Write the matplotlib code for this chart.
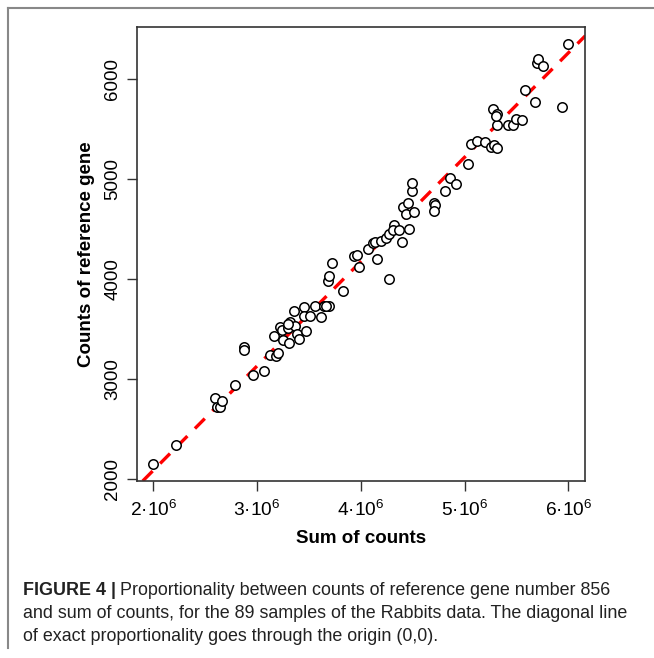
import matplotlib
matplotlib.use("Agg")
import matplotlib.pyplot as plt
from matplotlib.lines import Line2D

plt.rcParams['font.family'] = ['Liberation Sans', 'DejaVu Sans']
plt.rcParams['mathtext.fontset'] = 'custom'
plt.rcParams['mathtext.rm'] = 'Liberation Sans'
plt.rcParams['mathtext.it'] = 'Liberation Sans'

# Sum of counts (in millions) per sample
sum_counts_m = [2.000, 2.218, 2.597, 2.616, 2.642, 2.665, 2.787, 2.870, 2.870, 2.957,
                3.063, 3.124, 3.178, 3.204, 3.162, 3.220, 3.236, 3.252, 3.307, 3.300,
                3.319, 3.355, 3.364, 3.380, 3.400, 3.451, 3.454, 3.470, 3.509, 3.557,
                3.615, 3.640, 3.692, 3.685, 3.692, 3.724, 3.830, 3.933, 3.965, 3.984,
                4.071, 4.119, 4.135, 4.157, 4.196, 4.241, 4.267, 4.267, 4.318, 4.311,
                4.363, 4.392, 4.404, 4.436, 4.456, 4.459, 4.494, 4.497, 4.510, 4.700,
                4.710, 4.700, 4.809, 4.854, 4.921, 5.034, 5.059, 5.117, 5.191, 5.249,
                5.281, 5.307, 5.275, 5.307, 5.307, 5.300, 5.419, 5.470, 5.496, 5.554,
                5.579, 5.679, 5.698, 5.711, 5.753, 5.942, 6.000, 3.665, 3.300]
# Counts of reference gene number 856
ref_counts = [2147, 2340, 2807, 2723, 2717, 2783, 2940, 3317, 3287, 3040,
              3083, 3240, 3230, 3263, 3433, 3523, 3490, 3387, 3357, 3507,
              3570, 3683, 3530, 3447, 3400, 3723, 3630, 3480, 3630, 3730,
              3620, 3730, 3730, 3973, 4030, 4157, 3873, 4230, 4240, 4117,
              4300, 4357, 4363, 4197, 4380, 4407, 4450, 4000, 4540, 4490,
              4490, 4363, 4713, 4647, 4757, 4500, 4877, 4953, 4663, 4757,
              4733, 4680, 4873, 5007, 4950, 5150, 5350, 5377, 5363, 5320,
              5333, 5307, 5697, 5650, 5540, 5627, 5537, 5540, 5593, 5583,
              5887, 5767, 6157, 6197, 6130, 5717, 6350, 3730, 3545]

proportionality_slope = 1.043e-3  # counts per unit of sum of counts

xtick_values = [2e6, 3e6, 4e6, 5e6, 6e6]
xtick_labels = ['2\u00b710$^{6}$', '3\u00b710$^{6}$', '4\u00b710$^{6}$', '5\u00b710$^{6}$', '6\u00b710$^{6}$']
ytick_values = [2000, 3000, 4000, 5000, 6000]
ytick_labels = ['2000', '3000', '4000', '5000', '6000']

W, H = 654, 658
fig = plt.figure(figsize=(W / 100, H / 100), dpi=100)
ax = fig.add_axes([137.3 / W, 1 - 481 / H, (585.3 - 137.3) / W, (481 - 27) / H])

x = [v * 1e6 for v in sum_counts_m]
ax.plot(x, ref_counts, linestyle='none', marker='o', markersize=6.8,
        markerfacecolor='white', markeredgecolor='black', markeredgewidth=1.1, zorder=3)
ax.axline((0, 0), slope=proportionality_slope, color='#ff0000', linewidth=2.4,
          dashes=(4.2, 3.2), zorder=2)

ax.set_xlim(1.846e6, 6.162e6)
ax.set_ylim(1980, 6515)
ax.set_xticks(xtick_values)
ax.set_xticklabels(xtick_labels, fontsize=13.8)
ax.set_yticks(ytick_values)
ax.set_yticklabels(ytick_labels, fontsize=13.5, rotation=90, va='center')
ax.tick_params(axis='both', direction='out', length=7.5, width=1.0, color='#333333')
ax.tick_params(axis='x', pad=6)
ax.tick_params(axis='y', pad=4)
for s in ax.spines.values():
    s.set_linewidth(1.2)
    s.set_color('#333333')

ax.set_xlabel('Sum of counts', fontsize=13.5, fontweight='bold', labelpad=7)
ax.set_ylabel('Counts of reference gene', fontsize=13.5, fontweight='bold', labelpad=7)

# figure panel border (top and left)
fig.add_artist(Line2D([8 / W, 8 / W], [1 - 8 / H, 1 - 648 / H], color='#888888', linewidth=1.5,
                      transform=fig.transFigure))
fig.add_artist(Line2D([8 / W, 1.0], [1 - 8 / H, 1 - 8 / H], color='#888888', linewidth=1.5,
                      transform=fig.transFigure))

# caption
cap_size = 12.9
x0 = 22.7 / W
t1 = fig.text(x0, 1 - 595 / H, 'FIGURE 4 |', fontsize=cap_size, fontweight='bold',
              va='baseline', ha='left', color='#222222')
fig.canvas.draw()
bb = t1.get_window_extent()
fig.text((bb.x1 + 4) / W, 1 - 595 / H,
         'Proportionality between counts of reference gene number 856',
         fontsize=cap_size, va='baseline', ha='left', color='#222222')
fig.text(x0, 1 - 618 / H,
         'and sum of counts, for the 89 samples of the Rabbits data. The diagonal line',
         fontsize=cap_size, va='baseline', ha='left', color='#222222')
fig.text(x0, 1 - 641 / H,
         'of exact proportionality goes through the origin (0,0).',
         fontsize=cap_size, va='baseline', ha='left', color='#222222')

fig.savefig('out.png', dpi=100)
